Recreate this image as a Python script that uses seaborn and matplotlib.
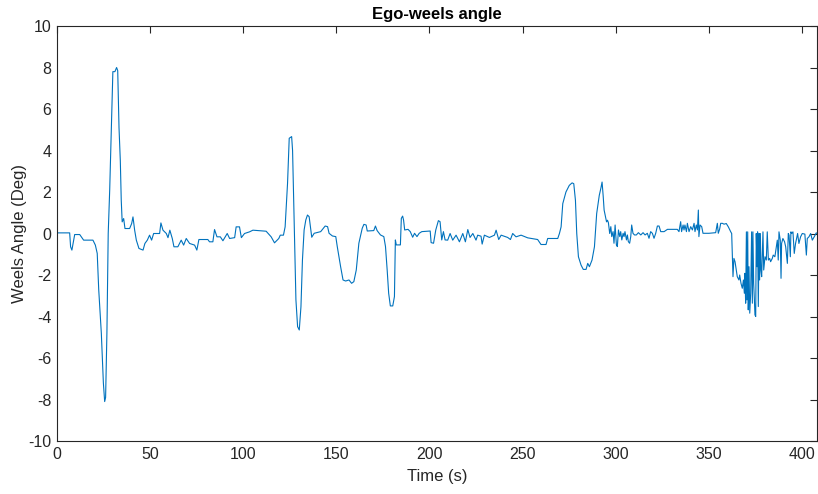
import numpy as np
import pandas as pd
import matplotlib
matplotlib.use("Agg")
import matplotlib.pyplot as plt
import seaborn as sns

title = "Ego-weels angle"
xlabel = "Time (s)"
ylabel = "Weels Angle (Deg)"
xticks = [0, 50, 100, 150, 200, 250, 300, 350, 400]
yticks = [-10, -8, -6, -4, -2, 0, 2, 4, 6, 8, 10]

time_s = [
    0, 6.8, 7.3, 8.0, 9.5, 12.2, 14.3, 19.3, 20.6, 21.6, 22.4, 23.8, 24.9, 25.6, 26.1, 26.8, 27.5,
    28.3, 29.0, 30.0, 31.1, 32.0, 32.6, 33.3, 34.0, 34.5, 35.0, 35.8, 36.5, 39.0, 40.1, 40.8, 41.7,
    42.6, 44.0, 46.2, 47.2, 48.5, 49.7, 50.8, 51.9, 55.1, 55.8, 56.9, 58.7, 59.6, 60.6, 61.9, 62.8,
    64.9, 66.7, 68.0, 69.4, 71.2, 73.9, 75.1, 76.2, 81.0, 81.9, 83.7, 84.6, 85.9, 87.7, 89.1, 91.4,
    92.7, 95.4, 96.2, 98.0, 99.0, 100.7, 103.4, 105.2, 112.3, 115.0, 116.8, 119.1, 119.9, 121.6,
    122.5, 123.8, 124.7, 126.0, 126.5, 127.4, 128.3, 129.2, 130.1, 131.0, 131.8, 132.7, 133.6,
    134.5, 135.4, 136.3, 136.8, 138.1, 141.6, 144.0, 145.3, 146.1, 147.9, 149.7, 150.5, 152.3,
    153.6, 155.0, 156.8, 158.2, 159.4, 160.7, 162.1, 163.9, 164.8, 166.0, 166.6, 170.1, 171.0,
    171.9, 173.7, 175.5, 176.4, 177.3, 178.1, 179.0, 180.3, 181.2, 181.7, 182.2, 184.4, 184.9,
    185.6, 186.1, 186.7, 188.5, 189.7, 191.0, 192.0, 193.3, 194.5, 195.9, 200.4, 200.9, 202.2,
    203.4, 204.8, 205.7, 206.6, 207.5, 208.4, 209.8, 211.1, 212.5, 214.3, 216.1, 217.9, 219.3,
    220.6, 221.8, 223.3, 225.0, 225.9, 227.7, 228.3, 229.5, 232.2, 234.9, 235.8, 237.2, 238.5,
    242.0, 243.5, 244.7, 246.5, 249.2, 252.8, 258.1, 259.9, 262.6, 263.5, 268.9, 269.8, 270.7,
    271.6, 273.3, 275.1, 276.6, 277.5, 278.4, 279.1, 280.0, 281.4, 282.6, 284.1, 285.0, 285.9,
    287.3, 288.6, 289.8, 291.2, 292.1, 292.7, 293.3, 293.8, 294.7, 295.1, 295.6, 296.1, 296.8,
    297.4, 297.9, 298.6, 299.1, 299.7, 300.4, 300.9, 301.5, 302.2, 302.7, 303.3, 304.0, 304.5,
    305.0, 305.8, 306.3, 306.8, 307.5, 308.1, 308.6, 309.3, 310.1, 311.1, 312.2, 313.5, 314.7,
    315.8, 317.0, 317.9, 318.8, 319.7, 320.6, 321.5, 322.4, 323.3, 324.2, 326.0, 327.8, 333.1,
    334.0, 334.9, 335.4, 336.2, 336.7, 337.2, 338.0, 338.5, 339.4, 340.3, 341.2, 342.1, 342.6,
    343.3, 343.9, 344.4, 344.7, 345.3, 346.2, 346.9, 350.1, 353.7, 354.6, 355.1, 355.8, 356.4,
    357.3, 358.2, 359.4, 360.5, 361.8, 362.3, 362.7, 363.0, 363.5, 364.1, 364.8, 365.3, 366.2,
    366.6, 367.3, 368.0, 368.6, 369.1, 369.4, 369.8, 370.2, 370.5, 370.9, 371.2, 371.6, 372.0,
    372.5, 373.0, 373.4, 373.7, 374.1, 374.5, 374.8, 375.2, 375.5, 375.9, 376.2, 376.6, 377.0,
    377.3, 377.7, 378.0, 378.4, 379.1, 379.5, 380.2, 380.9, 381.4, 382.0, 382.7, 383.2, 384.1,
    384.6, 385.5, 386.3, 386.8, 387.3, 387.7, 388.4, 388.8, 389.1, 389.8, 390.7, 391.3, 392.2,
    392.7, 393.1, 393.8, 394.1, 394.5, 395.2, 395.9, 396.6, 397.7, 398.4, 399.3, 400.2, 401.6,
    402.4, 402.9, 403.8, 404.7, 405.6, 406.8, 407.7, 408.3,
]

angle_deg = [
    0.03, 0.03, -0.64, -0.8, -0.05, -0.05, -0.32, -0.32, -0.56, -0.96, -2.7, -4.8, -7.2, -8.1, -7.9, -4.8, 0.0,
    2.1, 4.5, 7.8, 7.8, 8.0, 7.85, 5.1, 3.5, 1.6, 0.56, 0.72, 0.24, 0.24, 0.48, 0.8, 0.16,
    -0.32, -0.72, -0.8, -0.48, -0.32, -0.08, -0.32, 0.0, 0.0, 0.51, 0.16, 0.0, -0.2, 0.16, -0.24, -0.64,
    -0.64, -0.32, -0.56, -0.24, -0.48, -0.56, -0.8, -0.29, -0.29, -0.4, -0.4, 0.19, -0.16, -0.16, -0.35, 0.0,
    -0.24, -0.2, 0.32, 0.32, -0.2, 0.0, 0.08, 0.16, 0.11, -0.16, -0.45, -0.24, -0.08, -0.08,
    0.32, 2.42, 4.59, 4.67, 4.0, 0.33, -3.2, -4.49, -4.65, -3.53, -1.28, 0.17, 0.65,
    0.89, 0.81, 0.17, -0.18, 0.01, 0.09, 0.36, 0.33, 0.01, -0.12, -0.15, -0.63, -1.6,
    -2.24, -2.29, -2.24, -2.4, -2.32, -1.76, -0.47, 0.25, 0.44, 0.41, 0.12, 0.14, 0.36,
    0.14, -0.07, -0.15, -0.63, -1.76, -2.88, -3.49, -3.49, -3.04, -0.31, -0.55, -0.55, 0.73,
    0.84, 0.65, 0.17, 0.2, 0.09, -0.18, 0.01, -0.15, 0.01, 0.09, 0.12, -0.44, -0.47,
    0.17, 0.62, 0.57, -0.31, 0.09, -0.31, -0.32, 0.0, -0.32, -0.08, -0.4, 0.0, -0.4,
    0.19, -0.19, 0.0, -0.32, -0.08, -0.13, -0.51, -0.08, -0.19, -0.08, 0.16, -0.29, -0.08,
    -0.19, -0.29, 0.0, -0.16, -0.08, -0.21, -0.29, -0.53, -0.53, -0.24, -0.24, 0.0, 0.32,
    1.44, 2.0, 2.32, 2.44, 2.4, 1.6, 0.0, -1.12, -1.52, -1.73, -1.73, -1.44, -1.6,
    -1.28, -0.64, 0.96, 1.84, 2.2, 2.48, 1.8, 1.13, 0.73, 0.56, 0.64, 0.52, 0.0,
    0.33, -0.15, 0.09, -0.47, 0.41, -0.55, -0.63, 0.17, -0.15, 0.09, -0.31, 0.01, -0.15,
    0.09, -0.31, -0.07, -0.39, -0.47, -0.15, 0.41, 0.01, -0.07, -0.07, 0.04, -0.07, 0.04,
    -0.07, 0.01, -0.23, 0.09, 0.01, -0.23, 0.01, 0.36, 0.36, 0.09, 0.09, 0.2, 0.2,
    0.09, 0.57, 0.09, 0.41, 0.17, 0.41, 0.09, 0.49, 0.09, 0.33, 0.17, 0.49, 0.09,
    0.41, 0.17, 1.13, -0.15, 0.41, 0.33, 0.01, 0.01, 0.04, 0.49, 0.01, 0.2, 0.49,
    0.49, 0.45, 0.48, 0.32, 0.08, 0.0, -1.28, -2.08, -1.2, -1.36, -1.76, -2.08, -2.24,
    -2.0, -2.4, -2.64, -2.24, -2.88, -1.92, -3.36, 0.08, -3.2, 0.08, -3.68, -1.6, -3.84,
    -2.88, 0.08, -3.36, 0.08, -2.4, -3.2, -3.92, -4.0, 0.0, -1.6, 0.08, -3.52, 0.0,
    -2.24, 0.0, -1.76, -2.08, 0.08, -1.76, -1.12, -1.28, 0.08, -1.28, -1.2, -1.36, -1.2,
    -1.04, -1.12, -0.64, -0.32, -1.28, 0.08, -0.32, -2.16, -0.48, -0.24, -0.4, -0.64, -1.44,
    0.0, -0.08, -1.12, 0.08, 0.0, 0.08, -0.96, -0.48, 0.0, -0.48, -0.16, 0.0, -0.03,
    -1.04, -0.24, -0.16, 0.0, -0.32, -0.13, 0.03, 0.0,
]

df = pd.DataFrame({"t": time_s, "a": angle_deg})

sns.set_style("white")
plt.rcParams["font.family"] = ["Liberation Sans", "DejaVu Sans"]
plt.rcParams["axes.unicode_minus"] = False

fig = plt.figure(figsize=(8.18, 4.94), dpi=100)
ax = fig.add_axes([57 / 818, 1 - 441 / 494, 1 - 57 / 818 - 0.0008, (441 - 26) / 494])

sns.lineplot(data=df, x="t", y="a", ax=ax, color="#0072BD", linewidth=0.8,
             estimator=None, sort=False)

ax.set_xlim(0, 408.3)
ax.set_ylim(-10, 10)
ax.set_xticks(xticks)
ax.set_yticks(yticks)
ax.set_xticklabels([str(v) for v in xticks])
ax.set_yticklabels([str(v) for v in yticks])

dark = "#262626"
for s in ax.spines.values():
    s.set_visible(True)
    s.set_color(dark)
    s.set_linewidth(0.8)
ax.tick_params(axis="both", which="both", direction="in", length=5, width=0.8,
               colors=dark, labelsize=11.5, top=True, right=True,
               labelcolor=dark, pad=4)

ax.set_xlabel(xlabel, fontsize=12, color=dark, labelpad=5)
ax.set_ylabel(ylabel, fontsize=12, color=dark, labelpad=1)
ax.set_title(title, fontsize=12, fontweight="bold", color="black", pad=5)

fig.savefig("out.png", dpi=100, facecolor="white")
